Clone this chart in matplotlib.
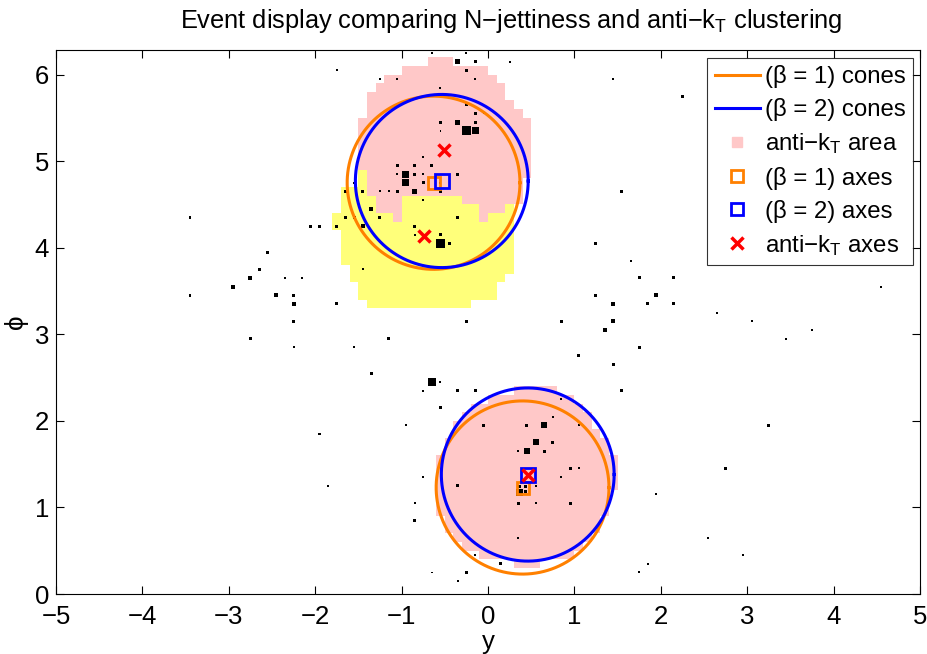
import matplotlib
matplotlib.use("Agg")
import matplotlib.pyplot as plt
from matplotlib.lines import Line2D
import numpy as np

plt.rcParams['font.family'] = ['Liberation Sans', 'DejaVu Sans']
plt.rcParams['mathtext.fontset'] = 'custom'
plt.rcParams['mathtext.rm'] = 'Liberation Sans'
plt.rcParams['mathtext.it'] = 'Liberation Sans:italic'

# ---------------- data ----------------
cell_size = 0.1
cone_radius = 1.0

# anti-kT jet areas: (phi of row bottom, y start, y end)
pink_phi = [6.1, 6.0, 5.9, 5.8, 5.7, 5.6, 5.5, 5.4, 5.3, 5.2, 5.1, 5.0, 4.9,
            4.8, 4.7, 4.6, 4.5, 4.5, 4.4, 4.4, 4.3, 4.3,
            2.3, 2.2, 2.1, 2.0, 1.9, 1.8, 1.7, 1.6, 1.5, 1.4, 1.3, 1.2, 1.1,
            1.0, 0.9, 0.8, 0.7, 0.6, 0.5, 0.4, 0.3]
pink_y0 = [-0.7, -1.0, -1.2, -1.3, -1.4, -1.4, -1.4, -1.5, -1.5, -1.5, -1.5, -1.5, -1.5,
           -1.4, -1.4, -1.4, -1.3, -0.3, -1.3, -0.1, -1.1, -0.1,
           0.3, 0.0, -0.2, -0.3, -0.4, -0.4, -0.5, -0.5, -0.6, -0.6, -0.6, -0.6, -0.6,
           -0.6, -0.6, -0.5, -0.5, -0.4, -0.3, -0.1, 0.3]
pink_y1 = [-0.4, 0.0, 0.1, 0.2, 0.2, 0.3, 0.4, 0.5, 0.5, 0.5, 0.5, 0.5, 0.5,
           0.5, 0.4, 0.4, -1.0, 0.4, -1.0, 0.2, -1.0, 0.0,
           0.8, 1.0, 1.1, 1.2, 1.2, 1.3, 1.4, 1.4, 1.5, 1.5, 1.5, 1.5, 1.4,
           1.4, 1.4, 1.3, 1.3, 1.2, 1.1, 1.0, 0.6]

yellow_phi = [4.8, 4.7, 4.6, 4.5, 4.5, 4.4, 4.4, 4.4, 4.3, 4.3, 4.3, 4.2,
              4.1, 4.0, 3.9, 3.8, 3.7, 3.6, 3.5, 3.4, 3.3]
yellow_y0 = [-1.5, -1.5, -1.7, -1.7, -1.0, -1.7, -1.0, 0.2, -1.8, -1.0, 0.0, -1.8,
             -1.7, -1.7, -1.7, -1.7, -1.6, -1.6, -1.5, -1.5, -1.4]
yellow_y1 = [-1.4, -1.4, -1.4, -1.3, -0.3, -1.3, -0.1, 0.3, -1.1, -0.1, 0.3, 0.3,
             0.3, 0.3, 0.3, 0.3, 0.3, 0.2, 0.1, 0.1, -0.2]

# particles: rapidity, azimuth, marker size (pixels, ~pT)
part_y = [-0.65, -0.25, -1.75, -1.25, -1.05, -0.35, -0.15, 0.25, -0.25, -0.15,
          -0.55, -0.25, -0.15, -0.05, -0.55, -0.35, -0.15, -0.25, -0.15, -0.55,
          -0.75, -1.05, -0.85, -0.65, -1.05, -0.95, -0.85, -0.75, -0.35, -0.95,
          -0.75, -0.55, -0.55, -0.85, -1.05, -1.15, -1.25, -1.45, -1.65, -1.55,
          -0.75, -1.35, -1.65, -1.55, -1.45, -1.25, -1.75, -0.85, -0.85, -0.55,
          -0.55, -0.45, -0.35, -1.45, -1.75,
          -3.45, -2.05, -1.95, -2.55, -2.65, -2.75, -2.35, -2.15, -2.95, -3.45,
          -2.45, -2.25, -2.25, -2.25, -2.75, -2.25, -1.95, -0.25, -1.15, -1.55,
          -1.35, -0.65, -0.55, -0.75, -0.35, -0.55, -0.95, -0.75, -0.35, -1.85,
          -0.85, -0.85, -0.25, -0.35, -0.65,
          -0.15, 1.55, 0.85, -0.05, 0.45, 0.65, 0.75, 1.05, 0.55, 0.75,
          0.45, 0.65, 0.35, 0.95, 1.05, 0.85, 0.55, 0.36, 0.36, 0.43,
          0.43, 0.35, 0.55, 0.95, 0.35, -0.15, 0.15, 1.75,
          1.25, 1.65, 1.75, 2.15, 1.25, 1.45, 1.85, 1.95, 2.15, 2.65,
          3.05, 3.75, 3.45, 0.85, 1.45, 1.35, 1.75, 1.05, 1.45, 3.25,
          2.75, 1.95, 2.55, 2.95, 1.85, 1.45, 2.25, 1.55, 4.55]
part_phi = [6.25, 6.25, 6.05, 5.95, 5.95, 6.15, 6.15, 6.15, 6.05, 5.95,
            5.85, 5.65, 5.55, 5.55, 5.45, 5.45, 5.45, 5.35, 5.35, 5.35,
            5.05, 4.95, 4.95, 4.95, 4.85, 4.85, 4.85, 4.85, 4.85, 4.75,
            4.75, 4.75, 4.65, 4.65, 4.65, 4.65, 4.65, 4.65, 4.65, 4.75,
            4.55, 4.45, 4.35, 4.35, 4.25, 4.35, 4.25, 4.25, 4.15, 4.15,
            4.05, 4.05, 4.35, 3.75, 3.35,
            4.35, 4.25, 4.25, 3.95, 3.75, 3.65, 3.65, 3.65, 3.55, 3.45,
            3.45, 3.45, 3.35, 3.15, 2.95, 2.85, 1.85, 3.15, 2.95, 2.85,
            2.55, 2.45, 2.45, 2.35, 2.35, 2.15, 1.95, 1.35, 1.25, 1.25,
            1.05, 0.85, 0.25, 0.15, 0.25,
            2.35, 2.35, 2.25, 1.95, 1.95, 1.95, 2.05, 1.95, 1.75, 1.75,
            1.65, 1.65, 1.65, 1.45, 1.45, 1.35, 1.25, 1.17, 1.24, 1.24,
            1.18, 1.05, 1.05, 1.05, 0.65, 0.45, 0.35, 0.25,
            4.05, 3.85, 3.65, 3.65, 3.45, 3.35, 3.35, 3.45, 3.35, 3.25,
            3.15, 3.05, 2.95, 3.15, 3.15, 3.05, 2.85, 2.75, 2.65, 1.95,
            1.45, 1.15, 0.65, 0.45, 0.35, 5.95, 5.75, 4.65, 3.55]
part_size = [2, 2, 2, 2, 2, 5, 3, 2, 3, 2,
             2, 3, 3, 2, 3, 5, 3, 9, 7, 1.5,
             2, 3, 3, 3, 2, 7, 3, 2, 3, 7,
             3, 2, 3, 5, 3, 2, 2, 3, 3, 2,
             2, 4, 3, 3, 4, 3, 3, 3, 2, 3,
             9, 3, 3, 2, 3,
             2.5, 3, 3, 3, 3, 4, 2.5, 2, 4, 2.5,
             4, 3, 4, 3, 3, 2, 2.5, 3, 3, 2,
             3, 8, 2, 2, 3, 3, 2, 2, 3, 2,
             2, 3, 3, 2, 1.5,
             3, 3, 2, 3, 3, 6, 2, 2, 6, 3,
             6, 3, 2, 3, 2, 2, 2, 7, 3, 3,
             3, 3, 2, 3, 2, 2, 3, 2,
             3, 2, 3, 3, 3, 4, 3, 4, 3, 2,
             2, 2, 2, 3, 4, 4, 3, 3, 3, 3,
             3, 2, 2, 2, 2, 2, 3, 3, 2]

# jet axes (y, phi)
beta1_y = [-0.63, 0.40]
beta1_phi = [4.75, 1.23]
beta2_y = [-0.535, 0.46]
beta2_phi = [4.77, 1.38]
akt_y = [-0.505, -0.74, 0.46]
akt_phi = [5.13, 4.14, 1.38]

xticks = [-5, -4, -3, -2, -1, 0, 1, 2, 3, 4, 5]
yticks = [0, 1, 2, 3, 4, 5, 6]

# ---------------- style ----------------
PINK = '#FFC8C8'
YELLOW = '#FFFF7A'
ORANGE = '#FF8000'
BLUE = '#0000FF'
RED = '#FF0000'

fig = plt.figure(figsize=(9.28, 6.54), dpi=100)
ax = fig.add_axes([56/928, 60/654, 864/928, 544/654])

ax.barh(pink_phi, np.subtract(pink_y1, pink_y0), left=pink_y0, height=cell_size,
        align='edge', color=PINK, linewidth=0, antialiased=False, zorder=1)
ax.barh(yellow_phi, np.subtract(yellow_y1, yellow_y0), left=yellow_y0, height=cell_size,
        align='edge', color=YELLOW, linewidth=0, antialiased=False, zorder=1)

sizes_pt2 = (np.asarray(part_size) * 72.0 / 100.0) ** 2
ax.scatter(part_y, part_phi, s=sizes_pt2, marker='s', c='black', linewidths=0, zorder=3)

t = np.linspace(0, 2*np.pi, 400)
for cy, cp in zip(beta1_y, beta1_phi):
    ax.plot(cy + cone_radius*np.cos(t), cp + cone_radius*np.sin(t), color=ORANGE, lw=2.2, zorder=4)
for cy, cp in zip(beta2_y, beta2_phi):
    ax.plot(cy + cone_radius*np.cos(t), cp + cone_radius*np.sin(t), color=BLUE, lw=2.2, zorder=5)

ax.plot(beta1_y, beta1_phi, ls='none', marker='s', ms=9, mfc='none', mec=ORANGE, mew=2, zorder=6)
ax.plot(beta2_y, beta2_phi, ls='none', marker='s', ms=9.5, mfc='none', mec=BLUE, mew=2, zorder=7)
ax.plot(akt_y, akt_phi, ls='none', marker='x', ms=8, mec=RED, mew=2.5, zorder=8)

ax.set_xlim(-5, 5)
ax.set_ylim(0, 2*np.pi)
ax.set_xticks(xticks)
ax.set_yticks(yticks)
ax.tick_params(direction='in', length=5.5, width=0.8, labelsize=18.5,
               top=True, right=True)
ax.tick_params(axis='x', pad=8)
ax.tick_params(axis='y', pad=5)
for sp in ax.spines.values():
    sp.set_linewidth(0.8)

ax.set_xlabel('y', fontsize=18.5, labelpad=1)
ax.set_ylabel('\u03d5', fontsize=18.5, labelpad=5)
ax.set_title('Event display comparing N\u2212jettiness and anti\u2212k$_\\mathregular{T}$ clustering',
             fontsize=18.3, pad=16, x=0.527)

handles = [
    Line2D([], [], color=ORANGE, lw=2.2),
    Line2D([], [], color=BLUE, lw=2.2),
    Line2D([], [], ls='none', marker='s', ms=7, mfc=PINK, mec=PINK),
    Line2D([], [], ls='none', marker='s', ms=9, mfc='none', mec=ORANGE, mew=2),
    Line2D([], [], ls='none', marker='s', ms=9, mfc='none', mec=BLUE, mew=2),
    Line2D([], [], ls='none', marker='x', ms=8, mec=RED, mew=2.5),
]
labels = ['(\u03b2 = 1) cones', '(\u03b2 = 2) cones', 'anti\u2212k$_\\mathregular{T}$ area',
          '(\u03b2 = 1) axes', '(\u03b2 = 2) axes', 'anti\u2212k$_\\mathregular{T}$ axes']
leg = ax.legend(handles, labels, loc='upper right', bbox_to_anchor=(0.992, 0.985),
                borderaxespad=0, fontsize=17.3, frameon=True, fancybox=False,
                handlelength=1.9, handletextpad=0.2, labelspacing=0.42,
                borderpad=0.3)
leg.get_frame().set_edgecolor('black')
leg.get_frame().set_linewidth(0.8)
leg.set_zorder(10)

fig.savefig('out.png', dpi=100)
